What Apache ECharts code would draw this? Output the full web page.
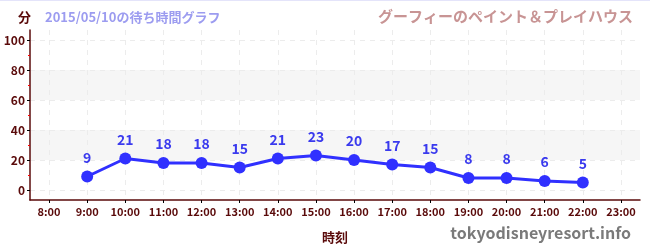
<!DOCTYPE html>
<html>
<head>
<meta charset="utf-8">
<script src="https://cdn.jsdelivr.net/npm/echarts@6/dist/echarts.min.js"></script>
<style>
  html,body{margin:0;padding:0;background:#fff;}
  #chart{width:650px;height:250px;}
</style>
</head>
<body>
<div id="chart"></div>
<script>
// 時刻 (hour) and 待ち時間 (minutes)
var hours = [9, 10, 11, 12, 13, 14, 15, 16, 17, 18, 19, 20, 21, 22];
var waits = [9, 21, 18, 18, 15, 21, 23, 20, 17, 15, 8, 8, 6, 5];
var hourTicks = [8, 9, 10, 11, 12, 13, 14, 15, 16, 17, 18, 19, 20, 21, 22, 23];
var yTicks = [0, 20, 40, 60, 80, 100];
var yMinor = [10, 30, 50, 70, 90];

var dark = '#5a0a0a';
var font = '"Noto Sans CJK JP", "DejaVu Sans", sans-serif';

var mychart = echarts.init(document.getElementById('chart'));
var points = hours.map(function (h, i) { return [h, waits[i]]; });

var option = {
  animation: false,
  textStyle: { fontFamily: font },
  title: [
    { text: '分', left: 13, top: 6, textStyle: { color: dark, fontSize: 13, fontWeight: 'bold', fontFamily: font } },
    { text: '2015/05/10の待ち時間グラフ', left: 40, top: 6, textStyle: { color: '#9c9cf0', fontSize: 13, fontWeight: 'bold', fontFamily: font } },
    { text: 'グーフィーのペイント＆プレイハウス', right: 12, top: 4, textStyle: { color: '#c89494', fontSize: 15, fontWeight: 'bold', fontFamily: font } },
    { text: 'tokyodisneyresort.info', right: 14, bottom: 4, textStyle: { color: '#7a7a7a', fontSize: 16, fontWeight: 'bold', fontFamily: font } }
  ],
  graphic: [
    { type: 'line', shape: { x1: 0, y1: 0.5, x2: 650, y2: 0.5 }, style: { stroke: '#e4e4fa', lineWidth: 1 } }
  ],
  grid: { left: 30, right: 10, top: 30, bottom: 50 },
  xAxis: {
    type: 'value',
    min: 7.5,
    max: 23.5,
    name: '時刻',
    nameLocation: 'middle',
    nameGap: 31,
    nameTextStyle: { color: dark, fontSize: 13, fontWeight: 'bold' },
    axisLine: { show: true, onZero: false, lineStyle: { color: dark, width: 1.5 } },
    axisTick: { show: true, customValues: hourTicks, length: 3, lineStyle: { color: '#000' } },
    axisLabel: {
      customValues: hourTicks,
      color: dark, fontSize: 11, fontWeight: 'bold', margin: 6,
      formatter: function (v) { return v + ':00'; }
    },
    splitLine: { show: true, lineStyle: { color: '#ececec', type: [5, 5] } }
  },
  yAxis: [
    {
      type: 'value',
      min: -20 / 3,
      max: 320 / 3,
      axisLine: { show: true, onZero: false, lineStyle: { color: dark, width: 1.5 } },
      axisTick: { show: true, customValues: yTicks, length: 3, lineStyle: { color: '#000' } },
      axisLabel: { customValues: yTicks, color: dark, fontSize: 12, fontWeight: 'bold', margin: 5 },
      splitLine: { show: true, lineStyle: { color: '#ececec', type: [5, 5] } },
      splitArea: { show: true, areaStyle: { color: ['rgba(0,0,0,0)', '#f6f6f6'] } }
    },
    {
      type: 'value',
      min: -20 / 3,
      max: 320 / 3,
      position: 'left',
      offset: 0,
      axisLine: { show: false, onZero: false },
      axisTick: { show: true, customValues: yMinor, length: 2, lineStyle: { color: '#ff0000' } },
      axisLabel: { show: false },
      splitLine: { show: false }
    }
  ],
  series: [
    {
      type: 'line',
      data: points,
      symbol: 'circle',
      symbolSize: 12,
      lineStyle: { color: '#3030ff', width: 3 },
      itemStyle: { color: '#3030ff' },
      label: {
        show: true, position: 'top', distance: 6,
        color: '#3a3aee', fontSize: 14, fontWeight: 'bold'
      }
    }
  ]
};
option && mychart.setOption(option);
</script>
</body>
</html>
